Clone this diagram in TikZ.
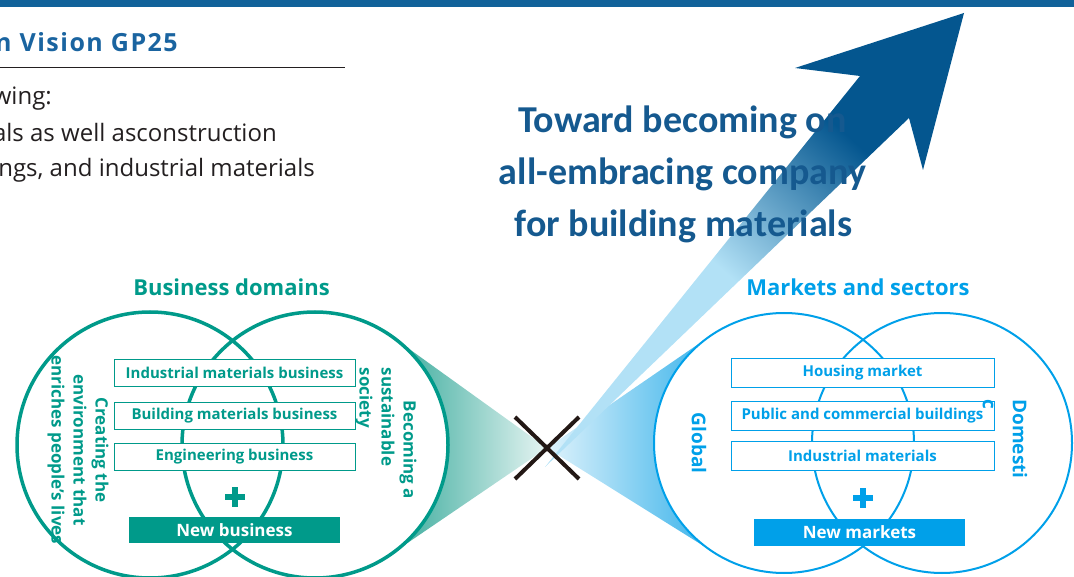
\documentclass[tikz,border=0pt]{standalone}
\usepackage{fontspec}
\setmainfont{Open Sans}
\newfontfamily\leadfont{Carlito}
\usepackage{xcolor}

\definecolor{barblue}{HTML}{11629A}
\definecolor{titleblue}{HTML}{1A64A0}
\definecolor{bodygray}{HTML}{231F20}
\definecolor{domainteal}{HTML}{009A8A}
\definecolor{marketblue}{HTML}{00A0E9}
\definecolor{fanteal}{HTML}{36A99A}
\definecolor{fanblue}{HTML}{38B2EA}
\definecolor{leadblue}{HTML}{15598F}
\definecolor{arrowdark}{HTML}{04568F}
\definecolor{arrowlight}{HTML}{B2E1F6}
\definecolor{crossblack}{HTML}{231815}

\newcommand\setsize[2]{\fontsize{#1}{#2}\selectfont}

% light shaft, dark head
\pgfdeclareverticalshading{arrowfade}{100bp}{%
  color(0bp)=(arrowlight); color(45bp)=(arrowlight);
  color(66bp)=(arrowdark); color(100bp)=(arrowdark)}

\begin{document}
\begin{tikzpicture}[
  x=1pt,
  y=-1pt,
  every node/.style={inner sep=0pt},
  heading/.style={anchor=base,font=\bfseries\setsize{22}{26}},
  itembox/.style={draw,fill=white,line width=0.9pt,
    font=\bfseries\setsize{15}{18}},
  newbox/.style={text=white,minimum width=211pt,
    font=\bfseries\setsize{17}{20}},
  sidetext/.style={rotate=-90,font=\bfseries\setsize{17}{22}},
  plusbar/.style={line width=6.5pt},
  bodyline/.style={anchor=base east,text=bodygray,font=\setsize{24}{28}},
  leadline/.style={anchor=base,text=leadblue,
    font=\leadfont\bfseries\setsize{38}{42}},
  crossline/.style={crossblack,line width=4pt}
]
  \useasboundingbox (0,0) rectangle (1074,577);
  \clip (0,0) rectangle (1074,577);

  % Header band and intro text.
  \fill[barblue] (0,0) rectangle (1074,7);
  \node[anchor=base east,text=titleblue,
    font=\bfseries\setsize{25}{28}\addfontfeatures{LetterSpace=6}]
    (title) at (178,52) {n Vision GP25};
  \draw[bodygray,line width=1.2pt] (0,67.5) -- (345,67.5);
  \node[bodyline] (intro1) at (52,105) {wing:};
  \node[bodyline] (intro2) at (277,142) {als as well asconstruction};
  \node[bodyline] (intro3) at (315,177) {ngs, and industrial materials};

  % Fans from the two Venn pairs into the cross.
  \coordinate (cross) at (547,448);
  \shade[left color=fanteal,right color=fanteal!12]
    (cross) -- (391.3,336.1) arc[start angle=-55,end angle=55,radius=133]
    -- cycle;
  \shade[left color=fanblue!16,right color=fanblue]
    (cross) -- (712.6,334.3) arc[start angle=236.7,end angle=123.3,radius=130]
    -- cycle;

  % Rising arrow.
  \shade[shading=arrowfade,shading angle=-42]
    (545,467) -- (860,76) -- (795,68) -- (964,13) -- (923,170)
    -- (909,118) -- cycle;
  \node[leadline] (lead1) at (682.5,133) {Toward becoming on};
  \node[leadline] (lead2) at (682.5,185) {all-embracing company};
  \node[leadline] (lead3) at (683.5,237) {for building materials};

  % Business domains.
  \draw[domainteal,line width=3.5pt] (150,445) circle[radius=133];
  \draw[domainteal,line width=3.5pt] (315,445) circle[radius=133];
  \node[heading,text=domainteal] (domains) at (231.5,296) {Business domains};
  \foreach \y/\txt [count=\i] in {372.5/Industrial materials business,
      416/Building materials business,457/Engineering business}
    \node[itembox,draw=domainteal,text=domainteal,minimum width=241pt,
      minimum height=27pt] (dom\i) at (234.5,\y) {\txt};
  \draw[plusbar,domainteal] (225,497) -- (245,497) (235,487) -- (235,507);
  \node[newbox,fill=domainteal,minimum height=26pt]
    (newbiz) at (234.5,530) {New business};
  \node[sidetext,align=center,text=domainteal] (creating) at (78,450)
    {Creating the\\environment that\\enriches people’s lives};
  \node[sidetext,text=domainteal] (becoming) at (408,450) {Becoming a};
  \node[sidetext,align=left,text=domainteal] (sustain) at (375,417)
    {sustainable\\society};

  % Markets and sectors.
  \draw[marketblue,line width=2pt] (784,443) circle[radius=130];
  \draw[marketblue,line width=2pt] (942,443) circle[radius=130];
  \node[heading,text=marketblue] (markets) at (858,296) {Markets and sectors};
  \foreach \y/\txt [count=\i] in {373/Housing market,
      415.5/Public and commercial buildings,455.5/Industrial materials}
    \node[itembox,draw=marketblue,text=marketblue,minimum width=263pt,
      minimum height=29pt] (mkt\i) at (862.5,\y) {\txt};
  \draw[plusbar,marketblue] (853,498) -- (873,498) (863,488) -- (863,508);
  \node[newbox,fill=marketblue,minimum height=27pt]
    (newmkt) at (859.5,532.5) {New markets};
  \node[sidetext,text=marketblue,font=\bfseries\setsize{19}{22}]
    (global) at (699,443) {Global};
  \node[sidetext,align=left,text=marketblue,font=\bfseries\setsize{19}{30}]
    (domestic) at (1005,439) {Domesti\\c};

  % Cross between the two pairs.
  \draw[crossline] (cross) ++(-32,-31) -- ++(64,62);
  \draw[crossline] (cross) ++(32,-31) -- ++(-64,62);
\end{tikzpicture}
\end{document}
